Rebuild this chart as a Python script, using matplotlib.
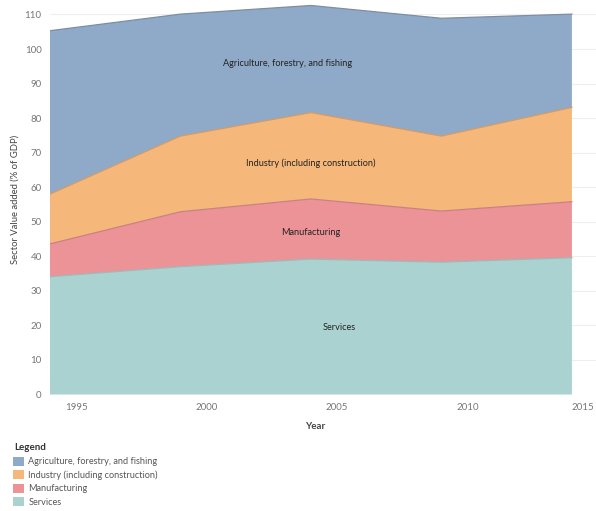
import matplotlib
matplotlib.use('Agg')
import matplotlib.pyplot as plt
import matplotlib.transforms as mtransforms
import numpy as np
from matplotlib.patches import Patch

plt.rcParams['font.family'] = ['Lato', 'DejaVu Sans']

# 数据
years = [1994, 1999, 2004, 2009, 2014]
services = [34.1, 37.0, 39.2, 38.3, 39.6]
manufacturing = [9.5, 15.9, 17.4, 14.8, 16.2]
industry = [14.4, 21.9, 25.0, 21.7, 27.3]
agriculture = [47.3, 35.3, 31.0, 34.1, 27.0]

names = ['Agriculture, forestry, and fishing', 'Industry (including construction)',
         'Manufacturing', 'Services']
colors = ['#8eaac8', '#f5b87a', '#ec9397', '#aad2d1']
edge_colors = ['#7d8da3', '#d49a66', '#c98088', '#9bbab8']

fig = plt.figure(figsize=(5.96, 5.11), dpi=100)
ax = fig.add_axes([50/596, 1 - 394.5/511, 548/596, 390.4/511])

# 堆叠面积图
ax.stackplot(years, services, manufacturing, industry, agriculture,
             colors=colors[::-1], linewidth=0)
tops = np.cumsum([services, manufacturing, industry, agriculture], axis=0)
for top, ec in zip(tops, edge_colors[::-1]):
    ax.plot(years, top, color=ec, linewidth=0.9)

ax.set_xlim(1994, 2015)
ax.set_ylim(0, 113)
ax.set_xticks([1995, 2000, 2005, 2010, 2015])
ax.set_yticks(range(0, 111, 10))
ax.tick_params(length=0, labelsize=7, colors='#777777', pad=6)
last = ax.get_xticklabels()[-1]
last.set_ha('right')
last.set_transform(last.get_transform() + mtransforms.ScaledTranslation(-4/100, 0, fig.dpi_scale_trans))
ax.grid(axis='y', color='#eeeeee', linewidth=0.8)
ax.set_axisbelow(True)
for s in ax.spines.values():
    s.set_visible(False)

ax.set_xlabel('Year', fontsize=7, fontweight='bold', color='#444444')
ax.xaxis.set_label_coords((315 - 50) / 548, -0.07)
ax.set_ylabel('Sector Value added (% of GDP)', fontsize=6.8, color='#444444')
ax.yaxis.set_label_coords((20 - 50) / 548, 0.5)

# 区域标签
ax.text(2003.1, 95.9, names[0], fontsize=6.6, color='#222222', ha='center', va='center')
ax.text(2004.0, 67.0, names[1], fontsize=6.6, color='#222222', ha='center', va='center')
ax.text(2004.0, 47.0, names[2], fontsize=6.6, color='#222222', ha='center', va='center')
ax.text(2005.1, 19.3, names[3], fontsize=6.6, color='#222222', ha='center', va='center')

# 图例
fig.text(14/596, 1 - 447/511, 'Legend', fontsize=7, fontweight='bold', color='#333333', va='center')
handles = [Patch(facecolor=c, edgecolor='none') for c in colors]
leg = fig.legend(handles, names, loc='upper left', bbox_to_anchor=(8/596, 1 - 452/511),
                 frameon=False, fontsize=6.6, handlelength=1.2, handleheight=1.2,
                 handletextpad=0.5, labelspacing=0.4, borderpad=0)
for t in leg.get_texts():
    t.set_color('#555555')

fig.savefig('out.png', dpi=100)
